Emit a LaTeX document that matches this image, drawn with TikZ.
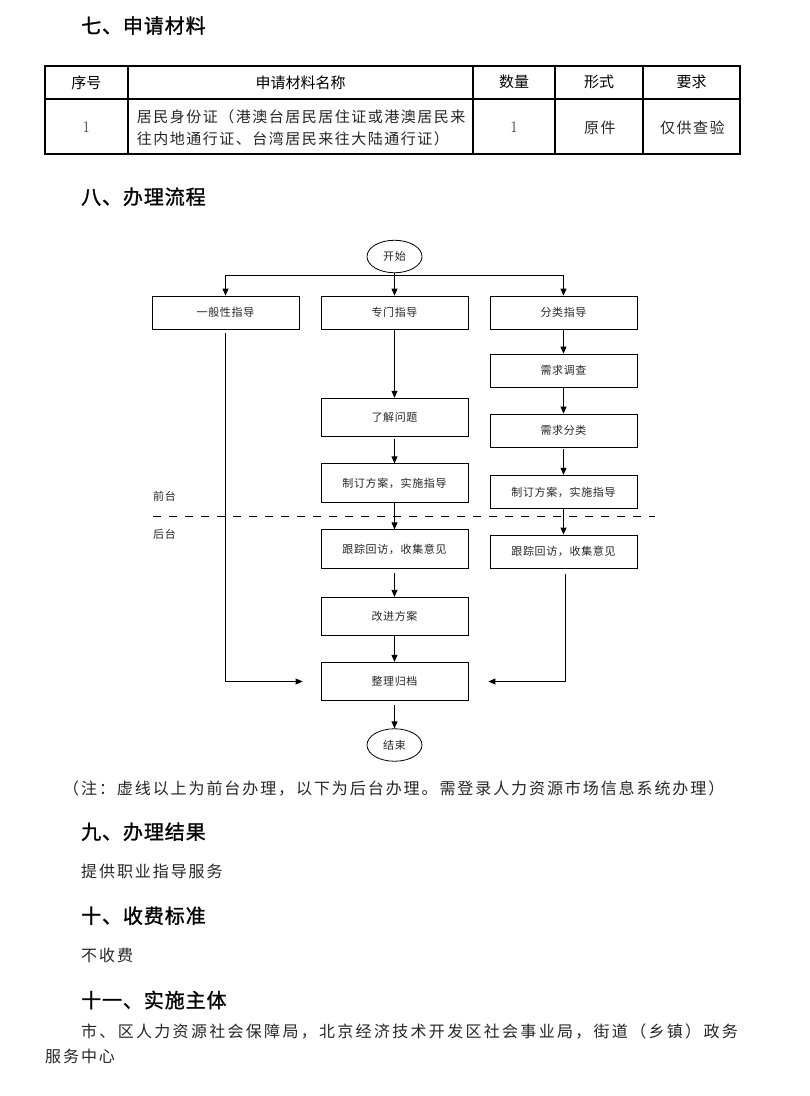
\documentclass[tikz,border=0pt]{standalone}
\usepackage{fontspec}
\usetikzlibrary{arrows.meta,shapes.geometric}
\newfontfamily\cjk{Noto Sans CJK SC}
\newfontfamily\cjkhead[LetterSpace=4.5, FakeBold=1.2]{Noto Sans CJK SC}
\newfontfamily\cjkbody[LetterSpace=12]{Noto Sans CJK SC}
\newfontfamily\cjkbodyw[LetterSpace=14.4]{Noto Sans CJK SC}
\newfontfamily\cjktab[LetterSpace=10]{Noto Sans CJK SC}
\newfontfamily\cjkbox[LetterSpace=6]{Noto Sans CJK SC}
\tikzset{
  headtxt/.style={anchor=west, inner sep=0pt, font=\cjkhead\fontsize{20}{24}\selectfont, text=black},
  bodytxt/.style={anchor=west, inner sep=0pt, font=\cjkbody\fontsize{16}{20}\selectfont, text=black!85},
  tabhead/.style={inner sep=0pt, font=\cjk\fontsize{15}{18}\selectfont, text=black},
  tabbody/.style={inner sep=0pt, font=\cjktab\fontsize{15}{18}\selectfont, text=black!85},
  tabnum/.style={inner sep=0pt, font=\fontsize{16}{18}\selectfont, text=black!85},
  pbox/.style={draw, line width=0.8pt, minimum width=147pt, minimum height=33pt, inner sep=0pt,
    font=\cjkbox\fontsize{11}{13}\selectfont, text=black!85},
  tallbox/.style={pbox, minimum height=38.5pt},
  term/.style={ellipse, draw, line width=0.8pt, minimum width=55pt, minimum height=32.5pt, inner sep=0pt,
    font=\cjkbox\fontsize{11}{13}\selectfont, text=black!85},
  flow/.style={line width=0.9pt, -{Triangle[length=7pt,width=6pt]}},
  lane/.style={anchor=west, inner sep=0pt, font=\cjkbox\fontsize{11}{13}\selectfont, text=black!85},
}
\begin{document}
\begin{tikzpicture}[x=1pt,y=-1pt]
\useasboundingbox (0,0) rectangle (810,1096);
\fill[white] (0,0) rectangle (810,1096);

% ---- section 7 ----
\node[headtxt] (h7) at (81,25.5) {七、申请材料};
\draw[line width=1.8pt] (44.7,65.7) rectangle (740,154);
\draw[line width=1.6pt] (44.7,98.7) -- (740,98.7);
\foreach \cx in {128,473,555,643} \draw[line width=1.6pt] (\cx,65.7) -- (\cx,154);
\node[tabhead] (t1) at (86.3,82.3) {序号};
\node[tabhead] (t2) at (300.5,82.3) {申请材料名称};
\node[tabhead] (t3) at (514,82.3) {数量};
\node[tabhead] (t4) at (599,82.3) {形式};
\node[tabhead] (t5) at (691.5,82.3) {要求};
\node[tabnum] (r1) at (86.3,127.5) {1};
\node[tabbody, anchor=west] (r2a) at (136.7,116.7) {居民身份证（港澳台居民居住证或港澳居民来};
\node[tabbody, anchor=west] (r2b) at (136.7,138.3) {往内地通行证、台湾居民来往大陆通行证）};
\node[tabnum] (r3) at (514,127.5) {1};
\node[tabbody] (r4) at (599.8,127.5) {原件};
\node[tabbody] (r5) at (692.3,127.5) {仅供查验};

% ---- section 8 ----
\node[headtxt] (h8) at (81,196.7) {八、办理流程};

\node[term] (start) at (394.5,256.5) {开始};
\node[pbox] (gen) at (225.5,312.5) {一般性指导};
\node[pbox] (spec) at (394.5,312.5) {专门指导};
\node[pbox] (cls) at (563.5,312.5) {分类指导};
\node[pbox] (survey) at (563.5,370.5) {需求调查};
\node[pbox] (sort) at (563.5,430.5) {需求分类};
\node[tallbox] (learn) at (394.5,417.5) {了解问题};
\node[tallbox] (planm) at (394.5,483) {制订方案，实施指导};
\node[pbox, minimum height=33.5pt] (planr) at (563.5,492) {制订方案，实施指导};
\node[tallbox] (trackm) at (394.5,549) {跟踪回访，收集意见};
\node[pbox] (trackr) at (563.5,551.5) {跟踪回访，收集意见};
\node[tallbox] (improve) at (394.5,616.5) {改进方案};
\node[tallbox] (archive) at (394.5,681.5) {整理归档};
\node[term] (finish) at (394.5,745) {结束};

\coordinate (bar) at (394.5,275);
\draw[flow] (start.south) -- (spec.north);
\draw[flow] (bar) -| (gen.north);
\draw[flow] (bar) -| (cls.north);

\coordinate (lend) at ([xshift=-18pt]archive.west);
\coordinate (rend) at ([xshift=20pt]archive.east);
\draw[flow] ([yshift=-4pt]gen.south) |- (lend);
\draw[flow] ([xshift=2pt,yshift=-6pt]trackr.south) |- (rend);

\draw[flow] (spec.south) -- (learn.north);
\draw[flow] ([yshift=-2pt]learn.south) -- (planm.north);
\draw[flow] (planm.south) -- (trackm.north);
\draw[flow] ([yshift=-4pt]trackm.south) -- (improve.north);
\draw[flow] (improve.south) -- (archive.north);
\draw[flow] ([yshift=-4pt]archive.south) -- (finish.north);

\draw[flow] (cls.south) -- (survey.north);
\draw[flow] (survey.south) -- (sort.north);
\draw[flow] ([yshift=-2pt]sort.south) -- (planr.north);
\draw[flow] (planr.south) -- (trackr.north);

\coordinate (dashl) at (153,516.7);
\coordinate (dashr) at (655,516.7);
\draw[line width=0.9pt, dash pattern=on 8pt off 8pt] (dashl) -- (dashr);
\node[lane] (front) at (153,496.7) {前台};
\node[lane] (back) at (153,534) {后台};

\node[bodytxt] (note) at (63,788.3) {（注：虚线以上为前台办理，以下为后台办理。需登录人力资源市场信息系统办理）};

% ---- sections 9-11 ----
\node[headtxt] (h9) at (81,831.7) {九、办理结果};
\node[bodytxt] (b9) at (81,871.7) {提供职业指导服务};
\node[headtxt] (h10) at (81,915.7) {十、收费标准};
\node[bodytxt] (b10) at (81,955) {不收费};
\node[headtxt] (h11) at (81,1000) {十一、实施主体};
\node[bodytxt, font=\cjkbodyw\fontsize{16}{20}\selectfont] (b11a) at (81,1031.7) {市、区人力资源社会保障局，北京经济技术开发区社会事业局，街道（乡镇）政务};
\node[bodytxt] (b11b) at (45,1056.7) {服务中心};
\end{tikzpicture}
\end{document}
